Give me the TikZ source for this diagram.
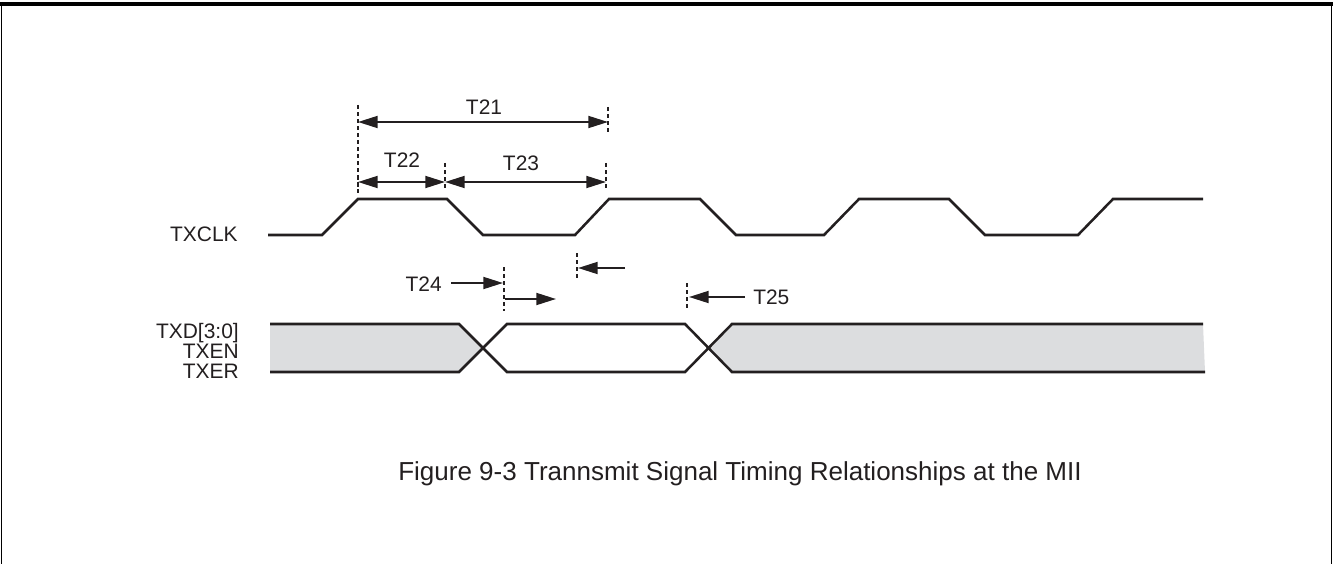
\documentclass[tikz,border=0pt]{standalone}
\usepackage{fontspec}
\setmainfont{Liberation Sans}
\usetikzlibrary{arrows.meta}
\definecolor{BusGray}{HTML}{DCDDDF}
\definecolor{InkGray}{HTML}{231F20}
\tikzset{
  wave/.style={line width=1.8pt, draw=InkGray},
  marker/.style={line width=1.5pt, draw=InkGray, dash pattern=on 3pt off 2pt},
  dim/.style={line width=1.4pt, draw=InkGray, -{Triangle[length=14pt,width=8.5pt]}},
  dimboth/.style={dim, {Triangle[length=14pt,width=8.5pt]}-{Triangle[length=14pt,width=8.5pt]}},
  signame/.style={font=\fontsize{14.9}{17}\selectfont, text=InkGray, inner sep=0pt, anchor=base east},
  tlabel/.style={font=\fontsize{14.9}{17}\selectfont, text=InkGray, inner sep=0pt, anchor=base},
  caption/.style={font=\fontsize{18.5}{22}\selectfont, text=InkGray, inner sep=0pt, anchor=base}
}
\begin{document}
\begin{tikzpicture}[x=0.025cm, y=-0.025cm]
  \useasboundingbox (0,0) rectangle (1333,564);
  % frame, open at the bottom
  \draw[line width=2.2pt] (0,4) -- (1333,4);
  \draw[line width=1.2pt] (1.5,4) -- (1.5,564) (1331.5,4) -- (1331.5,564);

  % signal names
  \node[signame] (txclk) at (238,241) {TXCLK};
  \node[signame] (txd) at (239,338) {TXD[3:0]};
  \node[signame] (txen) at (239,358) {TXEN};
  \node[signame] (txer) at (239,378) {TXER};

  % clock
  \draw[wave] (268,235) -- (322,235) -- (358,199) -- (447,199) -- (483,235) -- (575,235)
    -- (609,199) -- (700,199) -- (736,235) -- (824,235) -- (859,199) -- (949,199)
    -- (985,235) -- (1078,235) -- (1113,199) -- (1203,199);

  % data bus
  \fill[BusGray] (270,324) -- (459,324) -- (483,348) -- (459,372) -- (270,372) -- cycle;
  \fill[BusGray] (708,348) -- (732,324) -- (1203,324) -- (1205,372) -- (732,372) -- cycle;
  \draw[wave] (270,324) -- (459,324) -- (507,372) -- (685,372) -- (732,324) -- (1203,324);
  \draw[wave] (270,372) -- (459,372) -- (507,324) -- (685,324) -- (732,372) -- (1205,372);

  % reference edges
  \draw[marker] (358,105) -- (358,193);
  \draw[marker] (608,107) -- (608,133);
  \draw[marker] (445,163) -- (445,190);
  \draw[marker] (606,163) -- (606,190);
  \draw[marker] (577,253) -- (577,278);
  \draw[marker] (504,267) -- (504,311);
  \draw[marker] (687,283) -- (687,309);

  \coordinate (hiL) at (358,122);
  \coordinate (hiR) at (608,122);
  \coordinate (p22L) at (358,182);
  \coordinate (p22R) at (445,182);
  \coordinate (p23R) at (606,182);
  \coordinate (holdS) at (625,268);
  \coordinate (holdE) at (578,268);
  \coordinate (setS) at (451,283);
  \coordinate (setE) at (503,283);
  \coordinate (dlyS) at (505,299);
  \coordinate (dlyE) at (556,299);
  \coordinate (t25S) at (745,297);
  \coordinate (t25E) at (689,297);

  % timing arrows
  \draw[dimboth] (hiL) -- (hiR);
  \draw[dimboth] (p22L) -- (p22R);
  \draw[dimboth] (p22R) -- (p23R);
  \draw[dim] (holdS) -- (holdE);
  \draw[dim] (setS) -- (setE);
  \draw[dim] (dlyS) -- (dlyE);
  \draw[dim] (t25S) -- (t25E);

  \node[tlabel] (t21) at (484,115) {T21};
  \node[tlabel] (t22) at (402,167) {T22};
  \node[tlabel] (t23) at (521,171) {T23};
  \node[tlabel, anchor=base east] (t24) at (442,291) {T24};
  \node[tlabel, anchor=base west] (t25) at (753,304) {T25};

  \node[caption] (fig) at (740,480) {Figure 9-3 Trannsmit Signal Timing Relationships at the MII};
\end{tikzpicture}
\end{document}
